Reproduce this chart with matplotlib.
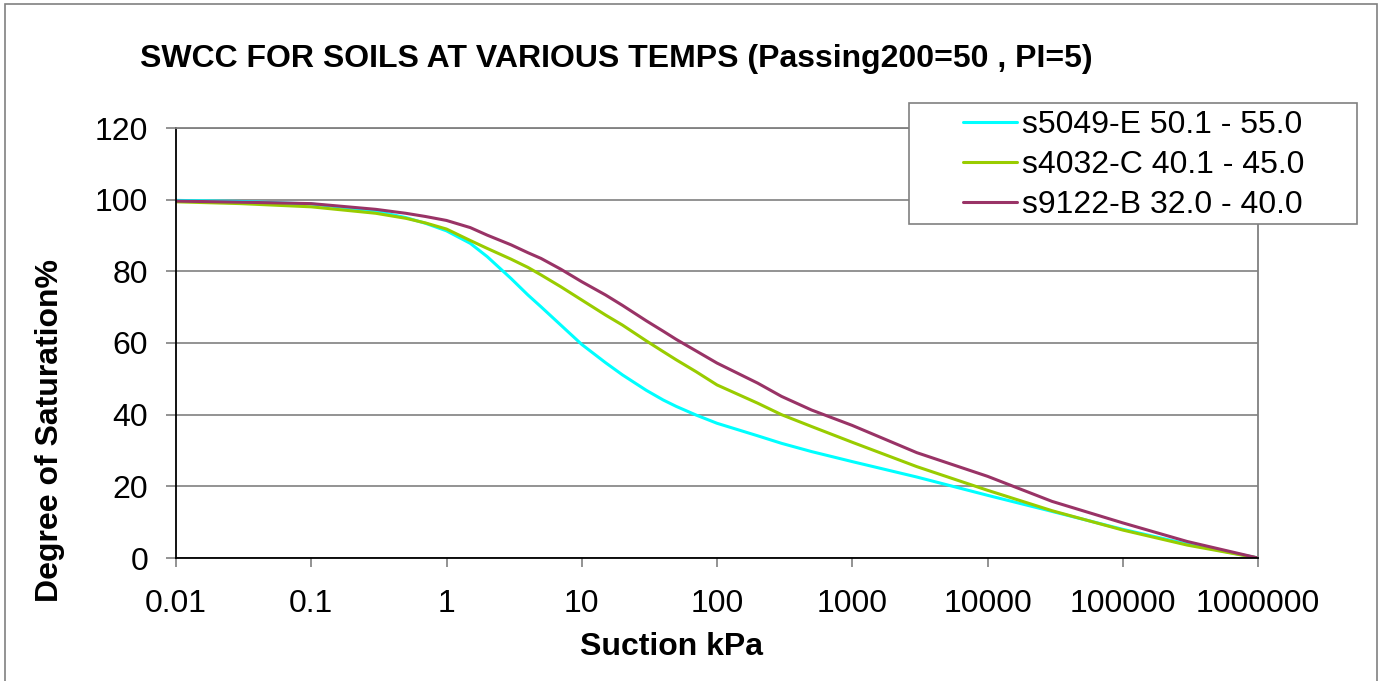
import numpy as np
import matplotlib
matplotlib.use('Agg')
import matplotlib.pyplot as plt
from matplotlib.patches import Rectangle

plt.rcParams['font.family'] = ['Liberation Sans', 'DejaVu Sans']

# Dane (ssanie kPa, stopien nasycenia %)
suction = [0.01, 0.03, 0.1, 0.3, 0.5, 0.7, 1, 1.5, 2, 3, 4, 5, 7, 10, 15, 20, 30, 40,
           50, 70, 100, 200, 300, 500, 1000, 3000, 1e4, 3e4, 1e5, 3e5, 1e6]

s5049_E = [99.8, 99.5, 98.8, 96.8, 95.0, 93.4, 91.3, 87.8, 84.1, 78.0, 73.4, 70.1,
           65.0, 59.6, 54.5, 51.1, 46.8, 44.1, 42.3, 39.9, 37.6, 34.1, 32.0, 29.7,
           26.9, 22.6, 17.5, 13.0, 8.0, 3.9, 0.0]
s4032_C = [99.4, 98.9, 98.0, 96.2, 94.8, 93.5, 91.8, 88.6, 86.4, 83.4, 81.1, 79.0,
           75.7, 72.0, 67.8, 65.0, 60.6, 57.6, 55.3, 52.0, 48.3, 43.2, 40.0, 36.7,
           32.3, 25.5, 18.9, 13.2, 7.8, 3.6, 0.0]
s9122_B = [99.6, 99.3, 98.9, 97.3, 96.2, 95.3, 94.2, 92.2, 90.1, 87.4, 85.2, 83.6,
           80.6, 77.1, 73.4, 70.5, 66.2, 63.3, 61.0, 57.8, 54.4, 48.8, 45.1, 41.3,
           37.0, 29.4, 22.8, 15.8, 9.8, 4.6, 0.0]

labels = ['s5049-E 50.1 - 55.0', 's4032-C 40.1 - 45.0', 's9122-B 32.0 - 40.0']
colors = ['#00FFFF', '#99CC00', '#993366']

xticks = [0.01, 0.1, 1, 10, 100, 1000, 10000, 100000, 1000000]
xtick_labels = ['0.01', '0.1', '1', '10', '100', '1000', '10000', '100000', '1000000']
yticks = [0, 20, 40, 60, 80, 100, 120]

W, H = 1381, 681
fs = 23

fig = plt.figure(figsize=(W / 100, H / 100), dpi=100)
ax = fig.add_axes([176 / W, 1 - 558 / H, (1258 - 176) / W, (558 - 128) / H])

handles = []
for serie, lab, col in zip([s5049_E, s4032_C, s9122_B], labels, colors):
    h, = ax.plot(suction, serie, color=col, lw=2.2, label=lab,
                 solid_capstyle='round', solid_joinstyle='round')
    handles.append(h)

ax.set_xscale('log')
ax.set_xlim(0.01, 1e6)
ax.set_ylim(0, 120)
ax.set_xticks(xticks)
ax.set_xticklabels(xtick_labels)
ax.minorticks_off()
ax.set_yticks(yticks)
ax.tick_params(axis='both', labelsize=fs, direction='out', color='#808080', width=1.2)
ax.tick_params(axis='x', length=6.5, pad=16)
ax.tick_params(axis='y', length=7, pad=13)

# siatka pozioma
ax.grid(axis='y', color='#808080', lw=1.2)
ax.set_axisbelow(True)
ax.spines['top'].set_color('#808080')
ax.spines['right'].set_color('#808080')
ax.spines['left'].set_color('black')
ax.spines['bottom'].set_color('black')
for sp in ax.spines.values():
    sp.set_linewidth(1.3)

fig.text(140 / W, 1 - 67 / H, 'SWCC FOR SOILS AT VARIOUS TEMPS (Passing200=50 , PI=5)',
         fontsize=fs, fontweight='bold', ha='left', va='baseline')
fig.text(671 / W, 1 - 655 / H, 'Suction kPa', fontsize=fs, fontweight='bold',
         ha='center', va='baseline')
fig.text(50 / W, 1 - 431 / H, 'Degree of Saturation%', fontsize=fs, fontweight='bold',
         ha='center', va='center', rotation=90)

# legenda - ramka rysowana osobno
fig.patches.append(Rectangle((909 / W, 1 - 224 / H), (1357 - 909) / W, (224 - 103) / H,
                             transform=fig.transFigure, facecolor='white',
                             edgecolor='#808080', lw=1.2, zorder=5))
leg = fig.legend(handles=handles, loc='upper left', bbox_to_anchor=(963 / W, 1 - 110 / H),
                 fontsize=fs, frameon=False, handlelength=1.7,
                 handletextpad=0.15, labelspacing=0.31, borderpad=0, borderaxespad=0)
leg.set_zorder(6)

# ramka wokol calego obrazka
fig.patches.append(Rectangle((5 / W, -0.02), 1372 / W, (H - 4) / H + 0.02,
                             transform=fig.transFigure, fill=False, edgecolor='#808080', lw=1.2))

fig.savefig('out.png', dpi=100)
